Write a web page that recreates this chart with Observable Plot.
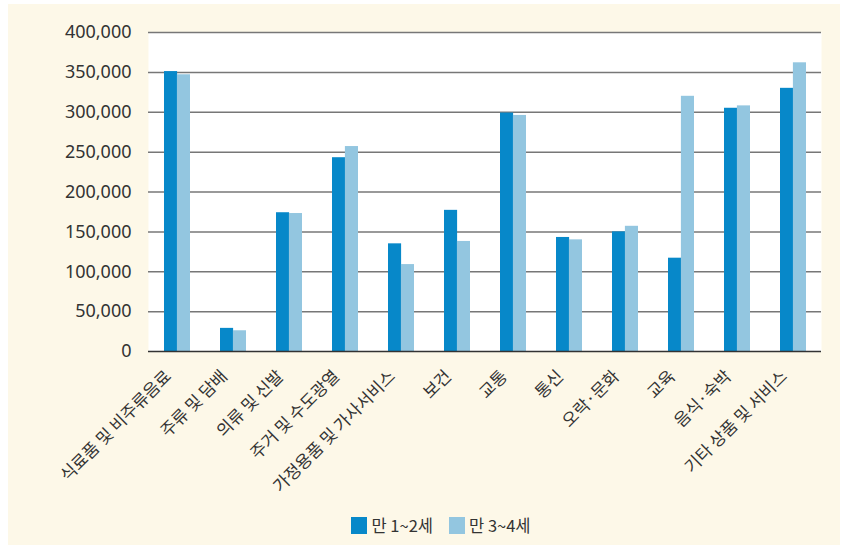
<!DOCTYPE html>
<html><head><meta charset="utf-8">
<script src="https://cdn.jsdelivr.net/npm/d3@7"></script>
<script src="https://cdn.jsdelivr.net/npm/@observablehq/plot@0.6"></script>
<style>
html,body{margin:0;padding:0;background:#fff;}
#box{position:absolute;left:8px;top:4px;width:832px;height:541px;background:#fdf8e8;font-family:"Noto Sans CJK KR","Noto Sans",sans-serif;}
#legend{position:absolute;left:17px;width:832px;top:509px;display:flex;justify-content:center;gap:16px;font-size:16.5px;color:#333;}
#legend span{display:inline-flex;align-items:center;gap:4px}
#legend i{display:inline-block;width:16px;height:17px}
</style></head>
<body><div id="box"><div id="chart"></div><div id="legend"></div></div>
<script>
const categories = ["식료품 및 비주류음료","주류 및 담배","의류 및 신발","주거 및 수도광열","가정용품 및 가사서비스","보건","교통","통신","오락·문화","교육","음식·숙박","기타 상품 및 서비스"];
const series = ["만 1~2세","만 3~4세"];
const values12 = [351000, 29000, 174000, 243000, 135000, 177000, 299000, 143000, 150000, 117000, 305000, 330000];
const values34 = [347000, 26000, 173000, 257000, 109000, 138000, 296000, 140000, 157000, 320000, 308000, 362000];
const yTicks = [0,50000,100000,150000,200000,250000,300000,350000,400000];
const colors = ["#0788c9","#93c6e0"];

const d12 = categories.map((c,i)=>({category:c, series:series[0], value:values12[i]}));
const d34 = categories.map((c,i)=>({category:c, series:series[1], value:values34[i]}));

const chart = Plot.plot({
  width: 832, height: 500,
  marginLeft: 140, marginRight: 19, marginTop: 28, marginBottom: 153,
  style: {background: "transparent", fontFamily: "'Noto Sans','Noto Sans CJK KR',sans-serif"},
  x: {domain: categories, paddingInner: 0.54, paddingOuter: 0.27, label: null},
  y: {domain: [0, 400000], label: null},
  color: {domain: series, range: colors},
  marks: [
    Plot.frame({fill: "#fff", stroke: null}),
    Plot.ruleY(yTicks.filter(d=>d>0), {stroke: "#777", strokeWidth: 1.5}),
    Plot.barY(d12, {x: "category", y: "value", fill: "series", insetRight: 12.9}),
    Plot.barY(d34, {x: "category", y: "value", fill: "series", insetLeft: 12.9}),
    Plot.ruleY([0], {stroke: "#333", strokeWidth: 1.5}),
    Plot.axisY({ticks: yTicks, tickFormat: d3.format(","), tickSize: 0, tickPadding: 17, fontSize: 18, fill: "#333", label: null}),
    Plot.axisX({tickSize: 0, tickPadding: 22, dx: -9, tickRotate: -45, fontSize: 17, fill: "#333", label: null, fontFamily: "'Noto Sans CJK KR',sans-serif"})
  ]
});
document.getElementById("chart").appendChild(chart);

const lg = document.getElementById("legend");
series.forEach((s,i)=>{
  const sp = document.createElement("span");
  sp.innerHTML = `<i style="background:${colors[i]}"></i>${s}`;
  lg.appendChild(sp);
});
</script></body></html>
